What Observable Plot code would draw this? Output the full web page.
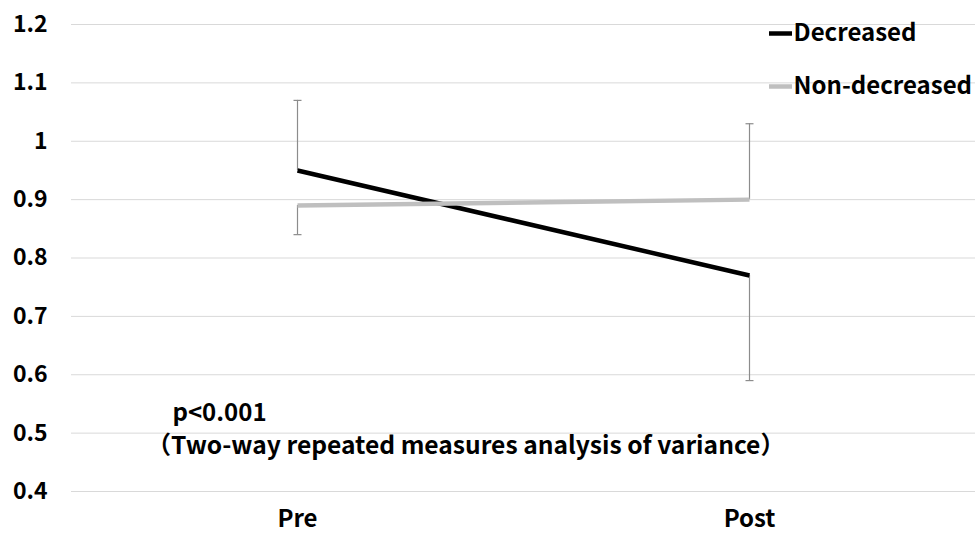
<!DOCTYPE html>
<html><head><meta charset="utf-8">
<script src="https://cdn.jsdelivr.net/npm/d3@7"></script>
<script src="https://cdn.jsdelivr.net/npm/@observablehq/plot@0.6"></script>
<style>body{margin:0;background:#fff} svg{display:block}</style>
</head><body><div id="chart"></div>
<script>
const phases = ["Pre", "Post"];
const series = ["Decreased", "Non-decreased"];
const decreased = [0.95, 0.77];
const nonDecreased = [0.89, 0.90];
// end of the displayed (one-sided) error whisker for each point
const decreasedErrEnd = [1.07, 0.59];
const nonDecreasedErrEnd = [0.84, 1.03];
const yTicks = [0.4, 0.5, 0.6, 0.7, 0.8, 0.9, 1.0, 1.1, 1.2];
const seriesColors = ["#000000", "#bfbfbf"];
const annotationLines = ["p<0.001", "（Two-way repeated measures analysis of variance）"];

const values = [decreased, nonDecreased];
const errEnds = [decreasedErrEnd, nonDecreasedErrEnd];
const rows = [];
series.forEach((s, i) => phases.forEach((p, j) => rows.push({series: s, phase: p, value: values[i][j], end: errEnds[i][j]})));

const lineSym = (w) => ({draw(ctx) { ctx.moveTo(-w / 2, 0); ctx.lineTo(w / 2, 0); }});

const font = "'Noto Sans CJK JP', 'Noto Sans', sans-serif";
const FS = 23;
const legendMarks = series.flatMap((s, i) => [
  Plot.dot([s], {frameAnchor: "top-left", dx: 709, dy: 9 + i * 53, symbol: lineSym(23), r: 5,
    stroke: seriesColors[i], strokeWidth: 4.5, fill: "none"}),
  Plot.text([s], {frameAnchor: "top-left", text: d => d, dx: 722, dy: 9 + i * 53, textAnchor: "start", lineAnchor: "middle", fontSize: 24, fontWeight: "bold", fill: "#000"})
]);
const annotationMarks = [
  Plot.text([annotationLines[0]], {frameAnchor: "bottom-left", text: d => d, dx: 101, dy: -78, textAnchor: "start", lineAnchor: "middle", fontSize: 24, fontWeight: "bold", fill: "#000"}),
  Plot.text([annotationLines[1]], {frameAnchor: "bottom-left", text: d => d, dx: 75, dy: -45, textAnchor: "start", lineAnchor: "middle", fontSize: 24.6, fontWeight: "bold", fill: "#000"})
];

const chart = Plot.plot({
  width: 976, height: 533,
  marginLeft: 71, marginRight: 1, marginTop: 24, marginBottom: 42,
  style: {fontFamily: font, fontSize: FS + "px", fontWeight: "bold", color: "#000", background: "#fff"},
  x: {type: "point", domain: phases, padding: 0.5, label: null},
  y: {domain: [0.4, 1.2], label: null},
  color: {domain: series, range: seriesColors},
  marks: [
    Plot.gridY(yTicks, {stroke: "#d9d9d9", strokeOpacity: 1, strokeWidth: 1}),
    Plot.axisY(yTicks, {tickSize: 0, tickPadding: 24, tickFormat: d => String(+d.toFixed(1)), fontSize: FS, fontWeight: "bold"}),
    Plot.axisX({tickSize: 0, tickPadding: 18, fontSize: 24, fontWeight: "bold"}),
    Plot.ruleX(rows, {x: "phase", y1: "value", y2: "end", stroke: "#8c8c8c", strokeWidth: 1.2}),
    Plot.dot(rows, {x: "phase", y: "end", symbol: lineSym(8), r: 4, stroke: "#8c8c8c", strokeWidth: 1.2, fill: "none"}),
    Plot.line(rows, {x: "phase", y: "value", z: "series", stroke: "series", strokeWidth: 4.5, strokeLinecap: "butt"}),
    ...legendMarks,
    ...annotationMarks
  ]
});
document.getElementById("chart").append(chart);
</script></body></html>
